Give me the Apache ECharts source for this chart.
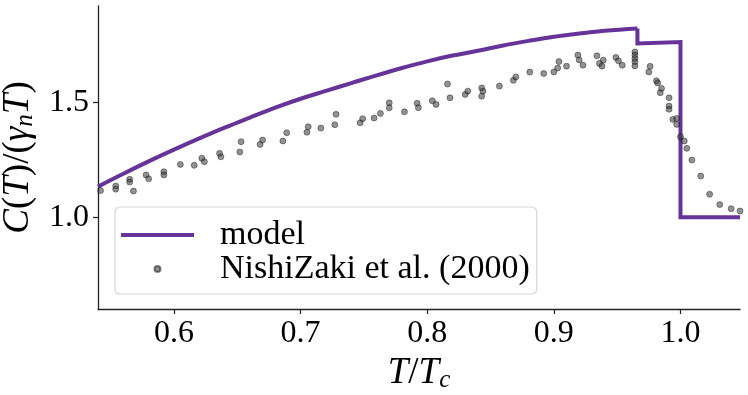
<!DOCTYPE html>
<html>
<head>
<meta charset="utf-8">
<script src="https://cdn.jsdelivr.net/npm/echarts@6/dist/echarts.min.js"></script>
<style>
  html, body { margin: 0; padding: 0; background: #fff; }
  #chart { width: 748px; height: 395px; }
</style>
</head>
<body>
<div id="chart"></div>
<script>
// model curve below the first jump (T/Tc, C/(gamma_n T))
var modelT = [0.54, 0.56, 0.58, 0.60, 0.62, 0.64, 0.66, 0.68, 0.70, 0.72, 0.74, 0.76, 0.78,
              0.80, 0.82, 0.84, 0.86, 0.88, 0.90, 0.92, 0.94, 0.966];
var modelC = [1.133, 1.189, 1.243, 1.294, 1.343, 1.390, 1.434, 1.477, 1.516, 1.550, 1.584, 1.618, 1.650,
              1.679, 1.704, 1.725, 1.748, 1.768, 1.786, 1.800, 1.812, 1.822];
// model steps: jump at 0.966, drop at Tc
var stepT = [0.966, 0.966, 1.0, 1.0, 1.047];
var stepC = [1.822, 1.757, 1.763, 1.0, 1.0];

// measured points, NishiZaki et al. (2000)
var dataT = [0.542, 0.554, 0.554, 0.565, 0.565, 0.568, 0.578, 0.580, 0.592, 0.592,
             0.605, 0.616, 0.622, 0.624, 0.636, 0.637, 0.653, 0.652, 0.668, 0.670,
             0.686, 0.689, 0.705, 0.706, 0.716, 0.727, 0.728, 0.747, 0.749, 0.758,
             0.763, 0.770, 0.770, 0.782, 0.792, 0.793, 0.804, 0.807, 0.816, 0.818,
             0.830, 0.832, 0.843, 0.844, 0.843, 0.857, 0.868, 0.870, 0.881, 0.892,
             0.900, 0.903, 0.904, 0.910, 0.919, 0.920, 0.923, 0.934, 0.936, 0.939,
             0.938, 0.949, 0.951, 0.954, 0.964, 0.964, 0.964, 0.964, 0.964, 0.976,
             0.975, 0.981, 0.982, 0.985, 0.984, 0.991, 0.991, 0.991, 0.994, 0.997,
             0.997, 1.000, 1.003, 1.005, 1.009, 1.016, 1.023, 1.031, 1.040, 1.047];
var dataC = [1.116, 1.136, 1.122, 1.165, 1.153, 1.114, 1.184, 1.167, 1.198, 1.184,
             1.230, 1.226, 1.257, 1.242, 1.278, 1.263, 1.329, 1.284, 1.317, 1.336,
             1.332, 1.368, 1.370, 1.394, 1.388, 1.403, 1.448, 1.411, 1.429, 1.432,
             1.452, 1.498, 1.477, 1.459, 1.496, 1.477, 1.507, 1.491, 1.580, 1.520,
             1.535, 1.549, 1.563, 1.549, 1.527, 1.571, 1.596, 1.611, 1.632, 1.626,
             1.633, 1.650, 1.678, 1.658, 1.706, 1.685, 1.662, 1.703, 1.670, 1.684,
             1.658, 1.696, 1.681, 1.662, 1.720, 1.706, 1.691, 1.677, 1.659, 1.657,
             1.633, 1.594, 1.585, 1.561, 1.542, 1.520, 1.484, 1.470, 1.426, 1.430,
             1.404, 1.350, 1.332, 1.300, 1.249, 1.179, 1.100, 1.055, 1.037, 1.027];

var xTicks = [0.6, 0.7, 0.8, 0.9, 1.0];
var yTicks = [1.0, 1.5];

var font = "'Liberation Serif', 'DejaVu Serif', serif";
var purple = '#663399';

function pairs(xs, ys) {
    return xs.map(function (x, i) { return [x, ys[i]]; });
}

var myChart = echarts.init(document.getElementById('chart'));

var mathRich = {
    i: { fontFamily: font, fontStyle: 'italic', fontSize: 37, color: '#000' },
    r: { fontFamily: font, fontSize: 37, color: '#000' },
    s: { fontFamily: font, fontStyle: 'italic', fontSize: 25, color: '#000', padding: [14, 0, 0, 0] }
};

var option = {
    animation: false,
    grid: {
        left: 98,
        right: 8,
        top: 6,
        bottom: 86,
        outerBoundsMode: 'none'
    },
    xAxis: {
        type: 'value',
        min: 0.54,
        max: 1.047,
        name: '{i|T}{r|/}{i|T}{s|c}',
        nameLocation: 'middle',
        nameGap: 40,
        nameTextStyle: { rich: mathRich },
        splitLine: { show: false },
        axisLine: { lineStyle: { color: '#222', width: 1.3 } },
        axisTick: { length: 5, customValues: xTicks, lineStyle: { color: '#222', width: 1.2 } },
        axisLabel: {
            customValues: xTicks,
            margin: 9,
            fontFamily: font,
            fontSize: 32,
            color: '#000',
            formatter: function (v) { return v.toFixed(1); }
        }
    },
    yAxis: {
        type: 'value',
        min: 0.6,
        max: 1.92,
        name: '{i|C}{r|(}{i|T}{r|)/(}{i|γ}{s|n}{i|T}{r|)}',
        nameLocation: 'middle',
        nameGap: 54,
        nameTextStyle: { rich: mathRich },
        splitLine: { show: false },
        axisLine: { show: true, lineStyle: { color: '#222', width: 1.3 } },
        axisTick: { show: true, length: 5, customValues: yTicks, lineStyle: { color: '#222', width: 1.2 } },
        axisLabel: {
            customValues: yTicks,
            margin: 9,
            fontFamily: font,
            fontSize: 32,
            color: '#000',
            formatter: function (v) { return v.toFixed(1); }
        }
    },
    legend: {
        orient: 'vertical',
        left: 115,
        top: 207,
        padding: [11, 7, 8, 6],
        itemGap: 0,
        itemWidth: 73,
        itemHeight: 6,
        backgroundColor: '#fff',
        borderColor: '#d6d6d6',
        borderWidth: 1.2,
        borderRadius: 5,
        textStyle: {
            fontFamily: font,
            fontSize: 34,
            lineHeight: 33,
            color: '#000',
            padding: [0, 0, 0, 21]
        },
        data: [
            {
                name: 'model',
                icon: 'path://M0,0 L73,0 L73,4 L0,4 Z',
                itemStyle: { color: purple, borderWidth: 0 }
            },
            {
                name: 'NishiZaki et al. (2000)',
                icon: 'circle'
            }
        ]
    },
    series: [
        {
            name: 'model',
            type: 'line',
            data: pairs(modelT, modelC),
            smooth: 0.4,
            showSymbol: false,
            symbol: 'none',
            lineStyle: { color: purple, width: 4 },
            itemStyle: { color: purple },
            z: 2
        },
        {
            name: 'model',
            type: 'line',
            data: pairs(stepT, stepC),
            showSymbol: false,
            symbol: 'none',
            lineStyle: { color: purple, width: 4, join: 'miter' },
            itemStyle: { color: purple },
            z: 2
        },
        {
            name: 'NishiZaki et al. (2000)',
            type: 'scatter',
            data: pairs(dataT, dataC),
            symbolSize: 6,
            itemStyle: {
                color: 'rgba(60,60,60,0.7)',
                borderColor: 'rgba(0,0,0,0.6)',
                borderWidth: 0.8
            },
            z: 3
        }
    ]
};

myChart.setOption(option);
</script>
</body>
</html>
